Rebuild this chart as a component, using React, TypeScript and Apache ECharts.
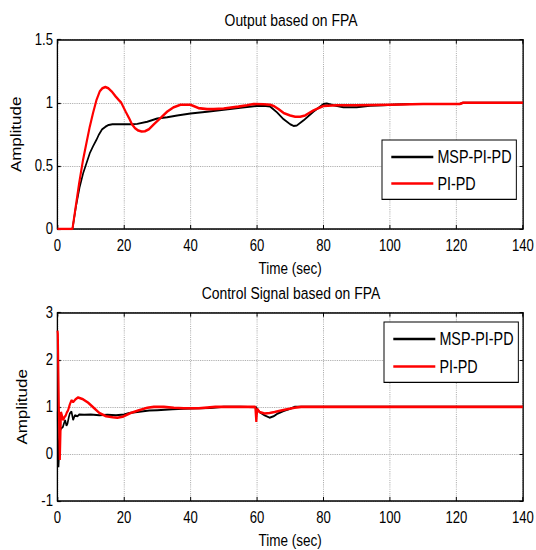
import React, { useEffect, useRef } from "react";
import * as echarts from "echarts";

// ---------- data ----------
const seriesNames = ["MSP-PI-PD", "PI-PD"];
const xTicks = [0, 20, 40, 60, 80, 100, 120, 140];
const outTicks = [0, 0.5, 1, 1.5];
const ctrlTicks = [-1, 0, 1, 2, 3];

const outMspT = [0, 4.5, 5.5, 6.7, 7.7, 8.7, 9.7, 10.7, 11.7, 12.5, 13.4, 14.4, 15.4, 16.5, 18, 20, 22, 24, 27, 30, 33, 36, 40, 45, 50, 55, 60, 62, 64, 66, 68, 70, 71, 72, 74, 77, 80, 81, 83, 86, 90, 94, 98, 102, 106, 110, 115, 121, 122, 130, 140];
const outMspV = [0, 0, 0.17, 0.336, 0.44, 0.52, 0.6, 0.655, 0.706, 0.75, 0.79, 0.81, 0.825, 0.83, 0.83, 0.83, 0.83, 0.833, 0.85, 0.875, 0.885, 0.9, 0.915, 0.93, 0.945, 0.96, 0.975, 0.976, 0.97, 0.925, 0.87, 0.83, 0.817, 0.82, 0.86, 0.93, 0.99, 0.995, 0.98, 0.965, 0.965, 0.976, 0.98, 0.987, 0.99, 0.99, 0.99, 0.99, 1.0, 1.0, 1.0];

const outPiT = [0, 4.5, 5.5, 6.5, 7.7, 8.7, 9.7, 10.7, 11.7, 12.7, 13.5, 14.4, 15.3, 16.3, 17.5, 18.5, 19.2, 20.5, 21.5, 22.4, 23.3, 24.3, 25.3, 26.3, 27.5, 29, 31, 33, 35, 37, 40, 42.4, 45, 47, 50, 54.4, 57, 59, 62, 64, 65, 66.5, 68, 70, 71.5, 73, 74.5, 77, 80, 84, 90, 100, 110, 121, 122, 130, 140];
const outPiV = [0, 0, 0.18, 0.36, 0.55, 0.68, 0.81, 0.92, 1.02, 1.09, 1.115, 1.125, 1.115, 1.09, 1.05, 1.02, 1.0, 0.93, 0.88, 0.83, 0.8, 0.78, 0.772, 0.775, 0.79, 0.83, 0.88, 0.93, 0.965, 0.984, 0.985, 0.958, 0.95, 0.95, 0.955, 0.97, 0.98, 0.99, 0.988, 0.985, 0.975, 0.95, 0.92, 0.9, 0.89, 0.89, 0.9, 0.94, 0.975, 0.98, 0.98, 0.985, 0.99, 0.99, 1.0, 1.0, 1.0];

const ctrlMspT = [0, 0.3, 0.8, 1.2, 1.6, 2.0, 2.3, 2.7, 3.0, 3.4, 3.7, 4.2, 4.7, 5.2, 6.0, 6.6, 8, 10, 12.6, 15, 17.6, 20, 21.6, 24, 27.6, 30, 34.6, 38, 42.5, 46, 50, 55, 59.8, 60.1, 60.8, 62.3, 63.8, 65, 66.3, 68, 70, 71.3, 74, 80, 90, 100, 140];
const ctrlMspV = [0.9, -0.28, 0.5, 0.55, 0.57, 0.66, 0.72, 0.6, 0.64, 0.78, 0.86, 0.9, 0.72, 0.82, 0.8, 0.84, 0.83, 0.84, 0.82, 0.83, 0.82, 0.84, 0.87, 0.89, 0.92, 0.93, 0.95, 0.96, 0.97, 0.975, 1.0, 1.0, 0.99, 0.95, 0.89, 0.82, 0.77, 0.8, 0.86, 0.91, 0.96, 1.0, 1.0, 1.0, 1.0, 1.0, 1.0];

const ctrlPiT = [0, 0.1, 0.4, 0.7, 1.05, 1.4, 1.7, 2.1, 2.5, 2.8, 3.2, 3.7, 4.2, 4.7, 5.4, 6.2, 7.7, 9.2, 10.6, 12.6, 14.6, 16.6, 18, 19.6, 22, 24.5, 27, 29, 32, 35, 38, 42.5, 47.5, 52, 56, 59.5, 59.8, 60.1, 60.8, 62.3, 63.8, 65.3, 68.3, 71.3, 73.3, 80, 90, 100, 140];
const ctrlPiV = [2.62, 2.55, 1.0, -0.13, 0.89, 0.8, 0.72, 0.78, 0.82, 0.88, 0.93, 1.05, 1.14, 1.1, 1.16, 1.2, 1.16, 1.09, 1.0, 0.87, 0.8, 0.78, 0.77, 0.79, 0.87, 0.93, 0.98, 1.0, 1.0, 0.98, 0.97, 0.97, 1.0, 1.0, 1.0, 1.0, 0.68, 0.96, 0.89, 0.86, 0.87, 0.89, 0.94, 0.98, 1.0, 1.0, 1.0, 1.0, 1.0];

const titles = ["Output based on FPA", "Control Signal based on FPA"];
const xName = "Time (sec)";
const yName = "Amplitude";

// ---------- style ----------
const FONT = "'Liberation Sans', Arial, sans-serif";
const colors = ["#000000", "#ff0000"];
// the reference picture is squeezed horizontally; the chart is drawn wider and squeezed by CSS
const SX = 0.82;
const W = 536 / SX;
const px = (v: number) => v / SX; // screen x-distance -> chart x-distance

const zip = (t: number[], v: number[]) => t.map((x, i) => [x, v[i]]);

function App() {
  const ref = useRef<HTMLDivElement>(null);
  useEffect(() => {
    if (!ref.current) return;
    const chart = echarts.init(ref.current, undefined, { renderer: "svg" });

    const grids = [
      { left: px(57.5), right: px(10), top: 39.7, height: 189.3 },
      { left: px(57.5), right: px(10), top: 312.7, height: 188.3 },
    ];
    const axisLine = { show: true, onZero: false, lineStyle: { color: "#000", width: 1.6 } };
    const tick = { show: true, inside: true, length: 4, lineStyle: { color: "#000", width: 1.2 } };
    const split = { show: true, lineStyle: { color: "#a8a8a8", type: "dotted" as const, width: 1.1 } };

    const xAxes: any[] = [];
    const yAxes: any[] = [];
    const yRanges = [
      { min: outTicks[0], max: outTicks[outTicks.length - 1], interval: 0.5, gap: px(34.5) },
      { min: ctrlTicks[0], max: ctrlTicks[ctrlTicks.length - 1], interval: 1, gap: px(28) },
    ];
    [0, 1].forEach((g) => {
      xAxes.push({
        type: "value", gridIndex: g, position: "bottom",
        min: xTicks[0], max: xTicks[xTicks.length - 1], interval: 20,
        axisLine, axisTick: tick, splitLine: split,
        axisLabel: { color: "#000", fontSize: 16, fontFamily: FONT, margin: 9 },
        name: xName, nameLocation: "middle", nameGap: 30,
        nameTextStyle: { color: "#000", fontSize: 16.5, fontFamily: FONT },
      });
      xAxes.push({
        type: "value", gridIndex: g, position: "top",
        min: xTicks[0], max: xTicks[xTicks.length - 1], interval: 20,
        axisLine, axisTick: tick, splitLine: { show: false }, axisLabel: { show: false },
      });
      const r = yRanges[g];
      yAxes.push({
        type: "value", gridIndex: g, position: "left",
        min: r.min, max: r.max, interval: r.interval,
        axisLine, axisTick: tick, splitLine: split,
        axisLabel: { color: "#000", fontSize: 16, fontFamily: FONT, margin: px(4.5) },
        name: yName, nameLocation: "middle", nameGap: r.gap,
        nameTextStyle: { color: "#000", fontSize: 17, fontFamily: FONT },
      });
      yAxes.push({
        type: "value", gridIndex: g, position: "right",
        min: r.min, max: r.max, interval: r.interval,
        axisLine, axisTick: tick, splitLine: { show: false }, axisLabel: { show: false },
      });
    });

    const mk = (name: string, data: number[][], ax: number, w: number, ci: number) => ({
      name, type: "line", xAxisIndex: ax, yAxisIndex: ax, data,
      showSymbol: false, symbol: "none",
      lineStyle: { color: colors[ci], width: w },
      itemStyle: { color: colors[ci] },
      z: 3 + ci,
    });

    const legendBase = {
      orient: "vertical",
      icon: "rect",
      itemWidth: px(42),
      itemHeight: 2.5,
      itemGap: 8.5,
      padding: [8, px(4.8), 6.8, px(9.3)],
      borderColor: "#000",
      borderWidth: 1.2,
      backgroundColor: "#fff",
      data: seriesNames,
      textStyle: { color: "#000", fontSize: 17.5, fontFamily: FONT },
    };

    chart.setOption({
      animation: false,
      backgroundColor: "#fff",
      grid: grids,
      xAxis: xAxes,
      yAxis: yAxes,
      legend: [
        { ...legendBase, left: px(382), top: 140 },
        { ...legendBase, left: px(384), top: 322, itemGap: 9.5 },
      ],
      graphic: [
        { type: "text", x: px(291), y: 20, style: { text: titles[0], fill: "#000", font: `17px ${FONT}`, align: "center", verticalAlign: "middle" } },
        { type: "text", x: px(291), y: 293, style: { text: titles[1], fill: "#000", font: `17px ${FONT}`, align: "center", verticalAlign: "middle" } },
      ],
      series: [
        mk(seriesNames[0], zip(outMspT, outMspV), 0, 2, 0),
        mk(seriesNames[1], zip(outPiT, outPiV), 0, 2.6, 1),
        mk(seriesNames[0], zip(ctrlMspT, ctrlMspV), 2, 2, 0),
        mk(seriesNames[1], zip(ctrlPiT, ctrlPiV), 2, 2.6, 1),
      ],
    });
    return () => chart.dispose();
  }, []);
  return (
    <div
      ref={ref}
      style={{
        position: "fixed", left: 0, top: 0, width: W, height: 550,
        transform: `scaleX(${SX})`, transformOrigin: "0 0",
      }}
    />
  );
}

export default App;
